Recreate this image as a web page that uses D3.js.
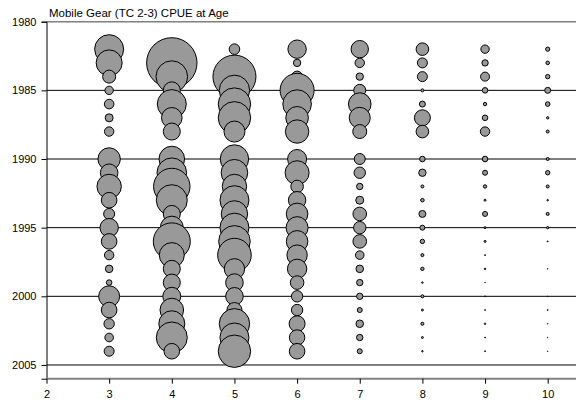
<!DOCTYPE html>
<html lang="en">
<head>
<meta charset="UTF-8">
<script src="https://d3js.org/d3.v7.min.js"></script>
<title>Mobile Gear CPUE at Age</title>
<style>
  body { margin: 0; background: #fff; }
  text { font-family: "Liberation Sans", Arial, sans-serif; }
</style>
</head>
<body>
<script>
// years on the y axis, ages on the x axis
var years = d3.range(1982, 2005);
var ages = [3, 4, 5, 6, 7, 8, 9, 10];
var yTicks = [1980, 1985, 1990, 1995, 2000, 2005];
var xTicks = [2, 3, 4, 5, 6, 7, 8, 9, 10];

// CPUE at age, one list per age, 1982..2004 (null = no point)
var age3  = [11.25, 9.11, 2.45, 1.10, 1.40, 1.01, 1.35, null, 6.84, 4.32, 8.06, 3.44, 1.80, 4.70, 3.44, 1.35, 0.92, 0.54, 6.05, 3.44, 1.62, 1.15, 1.51];
var age4  = [null, 33.02, 13.28, 4.05, 11.25, 5.83, 4.05, null, 8.84, 11.70, 17.48, 12.80, 4.05, 7.20, 18.05, 8.45, 4.05, 4.05, 4.51, 7.56, 9.11, 12.80, 3.44];
var age5  = [1.68, null, 24.20, 12.32, 13.94, 13.94, 6.05, null, 10.80, 9.52, 8.06, 11.25, 9.38, 11.25, 13.28, 14.96, 5.72, 4.32, 4.32, 3.20, 12.32, 11.25, 13.94];
var age6  = [4.70, 0.88, 1.80, 15.31, 10.95, 6.96, 7.44, null, 5.00, 7.81, 2.31, 4.23, 6.38, 6.61, 6.38, 5.72, 5.20, 2.66, 1.92, 1.92, 3.61, 3.36, 3.44];
var age7  = [4.23, 1.35, 0.88, 2.11, 6.96, 6.05, 2.81, null, 1.80, 1.92, 0.68, 1.01, 2.66, 2.24, 2.66, 1.15, 0.92, 0.68, 0.68, 0.45, 0.92, 0.68, 0.45];
var age8  = [2.31, 1.51, 1.51, 0.20, 0.61, 3.61, 2.31, null, 0.54, 0.88, 0.20, 0.26, 0.80, 0.45, 0.36, 0.20, 0.24, 0.08, 0.20, 0.11, 0.20, 0.11, 0.08];
var age9  = [1.10, 0.68, 1.25, 0.54, 0.24, 0.54, 1.35, null, 0.54, 0.45, 0.24, 0.11, 0.45, 0.11, 0.11, 0.05, 0.08, 0.03, 0.05, 0.05, 0.08, 0.05, 0.05];
var age10 = [0.34, 0.26, 0.36, 0.61, 0.39, 0.14, 0.20, null, 0.20, 0.36, 0.20, 0.08, 0.20, 0.14, 0.05, null, 0.03, null, 0.03, 0.05, 0.03, 0.03, 0.03];

var series = [age3, age4, age5, age6, age7, age8, age9, age10];

var W = 576, H = 405;
var svg = d3.select("body").append("svg").attr("width", W).attr("height", H);

var x = d3.scaleLinear().domain([2, 10]).range([46.5, 547.7]);
var y = d3.scaleLinear().domain([1980, 2006]).range([21.7, 378.7]);
var r = d3.scaleSqrt().domain([0, 35]).range([0, 26.46]);

// title
svg.append("text").attr("x", 49).attr("y", 17)
  .style("font-size", "11.5px").text("Mobile Gear (TC 2-3) CPUE at Age");

// top border
svg.append("line").attr("x1", x(2)).attr("x2", W)
  .attr("y1", y(1980)).attr("y2", y(1980))
  .attr("stroke", "#808080").attr("stroke-width", 1.5);

// horizontal grid lines
svg.selectAll("line.grid").data(yTicks.slice(1)).join("line")
  .attr("class", "grid")
  .attr("x1", x(2)).attr("x2", W)
  .attr("y1", d => y(d)).attr("y2", d => y(d))
  .attr("stroke", "#000").attr("stroke-width", 1);

// points
var pts = [];
series.forEach(function(s, i) {
  s.forEach(function(v, j) {
    if (v != null) pts.push({age: ages[i], year: years[j], v: v});
  });
});

svg.selectAll("circle").data(pts).join("circle")
  .attr("cx", d => x(d.age))
  .attr("cy", d => y(d.year))
  .attr("r", d => Math.max(0.3, r(d.v) - 0.5))
  .attr("fill", "#999999")
  .attr("stroke", "#000")
  .attr("stroke-width", 1);

// y axis
var yAxis = svg.append("g").attr("transform", "translate(" + x(2) + ",0)")
  .call(d3.axisLeft(y).tickValues(yTicks).tickFormat(d3.format("d")).tickSize(5).tickPadding(5));
yAxis.select(".domain").attr("stroke", "#000");
yAxis.selectAll("text").style("font-size", "11px").attr("fill", "#000");

// x axis
var xAxis = svg.append("g").attr("transform", "translate(0," + y(2006) + ")")
  .call(d3.axisBottom(x).tickValues(xTicks).tickFormat(d3.format("d")).tickSize(5).tickPadding(7).tickSizeOuter(0));
xAxis.select(".domain").attr("d", "M" + x(2) + ",0H" + W)
  .attr("stroke", "#808080").attr("stroke-width", 2);
xAxis.selectAll("text").style("font-size", "11px").attr("fill", "#000");
</script>
</body>
</html>
